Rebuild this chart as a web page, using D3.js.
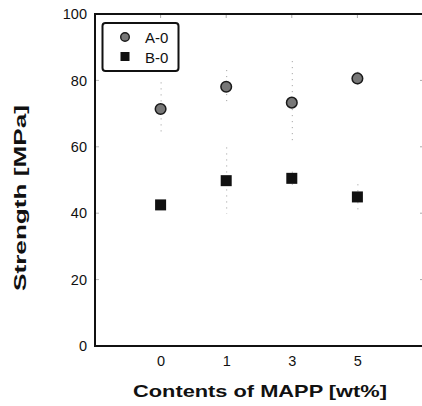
<!DOCTYPE html>
<html>
<head>
<meta charset="utf-8">
<script src="https://cdn.jsdelivr.net/npm/d3@7"></script>
<style>
  body { margin: 0; background: #fff; }
  svg { font-family: "Liberation Sans", Arial, sans-serif; }
</style>
</head>
<body>
<svg id="chart" width="422" height="406"></svg>
<script>
const categories = ["0", "1", "3", "5"];
const seriesA = [71.4, 78.1, 73.3, 80.6];
const seriesB = [42.5, 49.8, 50.5, 44.9];
const errorA = [8, 5, 12.5, 2];
const errorB = [1, 10, 2, 3.8];
const yTicks = [0, 20, 40, 60, 80, 100];
const seriesNames = ["A-0", "B-0"];

const width = 422, height = 406;
const plotLeft = 95, plotTop = 14, plotBottom = 346, plotRight = 423;

const svg = d3.select("#chart");

const x = d3.scalePoint().domain(categories).range([plotLeft, plotRight]).padding(1);
const y = d3.scaleLinear().domain([0, 100]).range([plotBottom, plotTop]);

// axes (labels only, frame lines drawn separately)
const yAxis = svg.append("g")
  .attr("transform", `translate(${plotLeft},0)`)
  .call(d3.axisLeft(y).tickValues(yTicks).tickSize(0).tickPadding(8));
yAxis.select(".domain").remove();
yAxis.selectAll("text")
  .attr("font-size", 14.5)
  .attr("font-family", "Liberation Sans, Arial, sans-serif")
  .attr("fill", "#111");

const xAxis = svg.append("g")
  .attr("transform", `translate(0,${plotBottom})`)
  .call(d3.axisBottom(x).tickSize(0).tickPadding(10));
xAxis.select(".domain").remove();
xAxis.selectAll("text")
  .attr("font-size", 14.5)
  .attr("font-family", "Liberation Sans, Arial, sans-serif")
  .attr("fill", "#111");

// faint inner ticks
svg.append("g").selectAll("line")
  .data(categories)
  .join("line")
  .attr("x1", d => x(d)).attr("x2", d => x(d))
  .attr("y1", plotTop).attr("y2", plotTop + 4)
  .attr("stroke", "#aaa").attr("stroke-width", 1);
svg.append("g").selectAll("line")
  .data(yTicks.slice(1, -1))
  .join("line")
  .attr("x1", plotLeft).attr("x2", plotLeft + 4)
  .attr("y1", d => y(d)).attr("y2", d => y(d))
  .attr("stroke", "#bbb").attr("stroke-width", 1);
svg.append("g").selectAll("line")
  .data(yTicks.slice(1, -1))
  .join("line")
  .attr("x1", width - 2).attr("x2", width)
  .attr("y1", d => y(d)).attr("y2", d => y(d))
  .attr("stroke", "#aaa").attr("stroke-width", 1);

// frame
const frame = svg.append("g").attr("stroke", "#111").attr("stroke-width", 2).attr("fill", "none");
frame.append("line").attr("x1", plotLeft).attr("x2", plotLeft).attr("y1", y(100) - 1).attr("y2", y(0) + 1);
frame.append("line").attr("x1", plotLeft - 1).attr("x2", width).attr("y1", y(100)).attr("y2", y(100));
frame.append("line").attr("x1", plotLeft - 1).attr("x2", width).attr("y1", y(0)).attr("y2", y(0));

// error bars (faint dotted)
function errorBars(vals, errs) {
  svg.append("g").selectAll("line")
    .data(vals)
    .join("line")
    .attr("x1", (d, i) => x(categories[i]) + 0.5)
    .attr("x2", (d, i) => x(categories[i]) + 0.5)
    .attr("y1", (d, i) => y(d + errs[i]))
    .attr("y2", (d, i) => y(d - errs[i]))
    .attr("stroke", "#999")
    .attr("stroke-width", 1)
    .attr("stroke-dasharray", "1,5");
}
errorBars(seriesA, errorA);
errorBars(seriesB, errorB);

// markers
svg.append("g").selectAll("circle")
  .data(seriesA)
  .join("circle")
  .attr("cx", (d, i) => x(categories[i]))
  .attr("cy", d => y(d))
  .attr("r", 5.3)
  .attr("fill", "#777")
  .attr("stroke", "#1a1a1a")
  .attr("stroke-width", 1.5);

const sq = 11;
svg.append("g").selectAll("rect")
  .data(seriesB)
  .join("rect")
  .attr("x", (d, i) => x(categories[i]) - sq / 2)
  .attr("y", d => y(d) - sq / 2)
  .attr("width", sq)
  .attr("height", sq)
  .attr("fill", "#111");

// legend
const legend = svg.append("g");
legend.append("rect")
  .attr("x", 102.5).attr("y", 23).attr("width", 76).attr("height", 48)
  .attr("rx", 3)
  .attr("fill", "#fff").attr("stroke", "#111").attr("stroke-width", 2);
legend.append("circle")
  .attr("cx", 125).attr("cy", 37).attr("r", 4.3)
  .attr("fill", "#777").attr("stroke", "#1a1a1a").attr("stroke-width", 1.4);
legend.append("rect")
  .attr("x", 120.5).attr("y", 52).attr("width", 9).attr("height", 9)
  .attr("fill", "#111");
legend.selectAll("text")
  .data(seriesNames)
  .join("text")
  .attr("x", 145)
  .attr("y", (d, i) => 42.5 + i * 20.5)
  .attr("font-size", 15)
  .attr("fill", "#111")
  .text(d => d);

// axis titles
svg.append("text")
  .attr("x", 260).attr("y", 397)
  .attr("text-anchor", "middle")
  .attr("font-size", 16.5)
  .attr("font-weight", "bold")
  .attr("textLength", 254)
  .attr("lengthAdjust", "spacingAndGlyphs")
  .attr("fill", "#111")
  .text("Contents of MAPP [wt%]");

svg.append("text")
  .attr("transform", "translate(26,198) rotate(-90)")
  .attr("text-anchor", "middle")
  .attr("font-size", 17)
  .attr("font-weight", "bold")
  .attr("textLength", 186)
  .attr("lengthAdjust", "spacingAndGlyphs")
  .attr("fill", "#111")
  .text("Strength [MPa]");
</script>
</body>
</html>
